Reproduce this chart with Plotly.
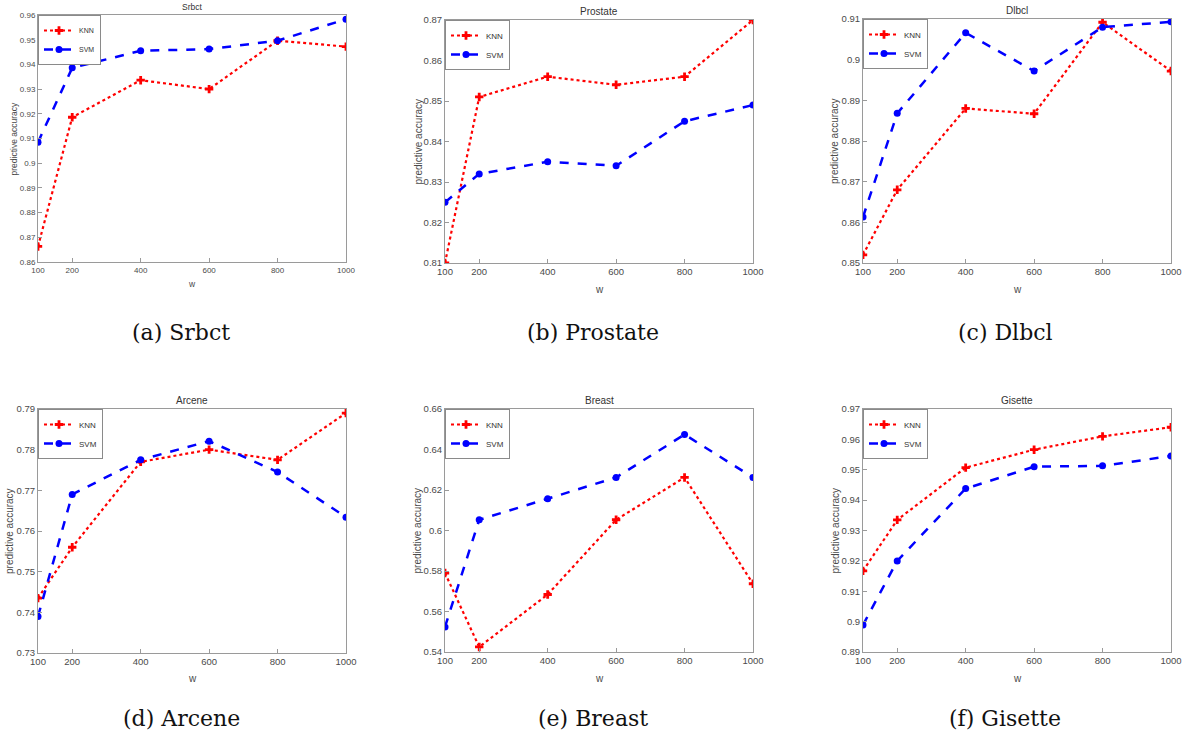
import plotly.graph_objects as go

W = [100, 200, 400, 600, 800, 1000]
x_ticks = [100, 200, 400, 600, 800, 1000]

titles = ["Srbct", "Prostate", "Dlbcl", "Arcene", "Breast", "Gisette"]
captions = ["(a) Srbct", "(b) Prostate", "(c) Dlbcl", "(d) Arcene", "(e) Breast", "(f) Gisette"]

knn_srbct = [0.8663, 0.9186, 0.9336, 0.9300, 0.9496, 0.9472]
svm_srbct = [0.9085, 0.9386, 0.9455, 0.9462, 0.9496, 0.9583]
knn_prostate = [0.810, 0.851, 0.856, 0.854, 0.856, 0.870]
svm_prostate = [0.825, 0.832, 0.835, 0.834, 0.845, 0.849]
knn_dlbcl = [0.852, 0.868, 0.888, 0.8867, 0.9092, 0.8972]
svm_dlbcl = [0.8613, 0.8868, 0.9066, 0.8972, 0.9080, 0.9093]
knn_arcene = [0.7435, 0.7560, 0.7770, 0.7800, 0.7775, 0.7890]
svm_arcene = [0.7390, 0.7690, 0.7775, 0.7821, 0.7745, 0.7634]
knn_breast = [0.5790, 0.5425, 0.5684, 0.6053, 0.6262, 0.5737]
svm_breast = [0.5524, 0.6053, 0.6157, 0.6262, 0.6474, 0.6262]
knn_gisette = [0.9167, 0.9335, 0.9507, 0.9566, 0.9610, 0.9640]
svm_gisette = [0.8989, 0.9200, 0.9438, 0.9510, 0.9513, 0.9545]

knn_all = [knn_srbct, knn_prostate, knn_dlbcl, knn_arcene, knn_breast, knn_gisette]
svm_all = [svm_srbct, svm_prostate, svm_dlbcl, svm_arcene, svm_breast, svm_gisette]

y_ticks = [
    [0.86, 0.87, 0.88, 0.89, 0.9, 0.91, 0.92, 0.93, 0.94, 0.95, 0.96],
    [0.81, 0.82, 0.83, 0.84, 0.85, 0.86, 0.87],
    [0.85, 0.86, 0.87, 0.88, 0.89, 0.9, 0.91],
    [0.73, 0.74, 0.75, 0.76, 0.77, 0.78, 0.79],
    [0.54, 0.56, 0.58, 0.6, 0.62, 0.64, 0.66],
    [0.89, 0.9, 0.91, 0.92, 0.93, 0.94, 0.95, 0.96, 0.97],
]

WIDTH, HEIGHT = 1184, 740
# plot-area pixel boxes: (left, right, top, bottom)
boxes = [
    (38, 346, 15, 262),
    (445, 753, 20, 263),
    (863, 1171, 19, 263),
    (38, 346, 409, 653),
    (445, 753, 409, 652),
    (863, 1171, 409, 652),
]
font_sizes = [8, 9.5, 9.5, 9.5, 9.5, 9.5]
legend_fs = [7, 8, 8, 8, 8, 8]
xlabel_y = [284, 289, 289, 678, 678, 678]
ylabel_x = [13, 418, 835, 9, 417, 835]
caption_pos = [(181, 332), (593, 332), (1005, 332), (181, 718), (593, 718), (1005, 718)]

def px(x):
    return x / WIDTH

def py(y):
    return 1 - y / HEIGHT

AX_COLOR = "#9a9a9a"
TXT_COLOR = "#4a4a4a"
FONT = "Liberation Sans, Arial, sans-serif"

fig = go.Figure()
layout = dict(
    template="none",
    width=WIDTH, height=HEIGHT,
    margin=dict(l=0, r=0, t=0, b=0, pad=0, autoexpand=False),
    paper_bgcolor="white", plot_bgcolor="white",
    showlegend=True,
    hovermode=False,
    annotations=[],
)

for i in range(6):
    n = "" if i == 0 else str(i + 1)
    xa, ya = "x" + n, "y" + n
    lg = "legend" if i == 0 else "legend" + str(i + 1)
    l, r, t, b = boxes[i]
    fs = font_sizes[i]
    fig.add_trace(go.Scatter(
        x=W, y=knn_all[i], mode="lines+markers", name="KNN",
        xaxis=xa, yaxis=ya, legend=lg,
        line=dict(color="#ff0000", width=2.2, dash="dot"),
        marker=dict(symbol="cross", size=7, color="#ff0000"),
    ))
    fig.add_trace(go.Scatter(
        x=W, y=svm_all[i], mode="lines+markers", name="SVM",
        xaxis=xa, yaxis=ya, legend=lg,
        line=dict(color="#0000ff", width=2.5, dash="dash"),
        marker=dict(symbol="circle", size=7, color="#0000ff"),
    ))
    yt = y_ticks[i]
    layout["xaxis" + n] = dict(
        domain=[px(l), px(r)], anchor=ya, range=[100, 1000], automargin=False,
        tickmode="array", tickvals=x_ticks, ticktext=[str(v) for v in x_ticks],
        showline=True, mirror=True, linecolor=AX_COLOR, linewidth=1,
        ticks="inside", ticklen=4, tickcolor=AX_COLOR,
        showgrid=False, zeroline=False,
        tickfont=dict(family=FONT, size=fs, color=TXT_COLOR),
    )
    layout["yaxis" + n] = dict(
        domain=[py(b), py(t)], anchor=xa, range=[yt[0], yt[-1]], automargin=False,
        tickmode="array", tickvals=yt, ticktext=[("%g" % v) for v in yt],
        showline=True, mirror=True, linecolor=AX_COLOR, linewidth=1,
        ticks="inside", ticklen=4, tickcolor=AX_COLOR,
        showgrid=False, zeroline=False,
        tickfont=dict(family=FONT, size=fs, color=TXT_COLOR),
    )
    layout[lg] = dict(
        x=px(l), y=py(t), xanchor="left", yanchor="top",
        xref="paper", yref="paper",
        bgcolor="white", bordercolor="#8a8a8a", borderwidth=1,
        font=dict(family=FONT, size=legend_fs[i], color="#333333"),
        itemwidth=30, tracegroupgap=0,
    )
    # title
    layout["annotations"].append(dict(
        text=titles[i], x=px((l + r) / 2), y=py(t - 1), xref="paper", yref="paper",
        xanchor="center", yanchor="bottom", showarrow=False,
        font=dict(family=FONT, size=fs + 0.5, color="#333333"),
    ))
    # x label
    layout["annotations"].append(dict(
        text="w", x=px((l + r) / 2), y=py(xlabel_y[i]), xref="paper", yref="paper",
        xanchor="center", yanchor="middle", showarrow=False,
        font=dict(family=FONT, size=fs + 0.5, color=TXT_COLOR),
    ))
    # y label
    layout["annotations"].append(dict(
        text="predictive accuracy", x=px(ylabel_x[i]), y=py((t + b) / 2),
        xref="paper", yref="paper", xanchor="center", yanchor="middle",
        textangle=-90, showarrow=False,
        font=dict(family=FONT, size=fs + 0.5, color=TXT_COLOR),
    ))
    # caption
    cx, cy = caption_pos[i]
    layout["annotations"].append(dict(
        text=captions[i], x=px(cx), y=py(cy), xref="paper", yref="paper",
        xanchor="center", yanchor="middle", showarrow=False,
        font=dict(family="DejaVu Serif, serif", size=22, color="#111111"),
    ))

fig.update_layout(**layout)
fig.write_html(
    "out.html",
    config={"displayModeBar": False},
    post_script="document.body.style.margin='0';document.body.style.padding='0';document.body.style.overflow='hidden';",
)
